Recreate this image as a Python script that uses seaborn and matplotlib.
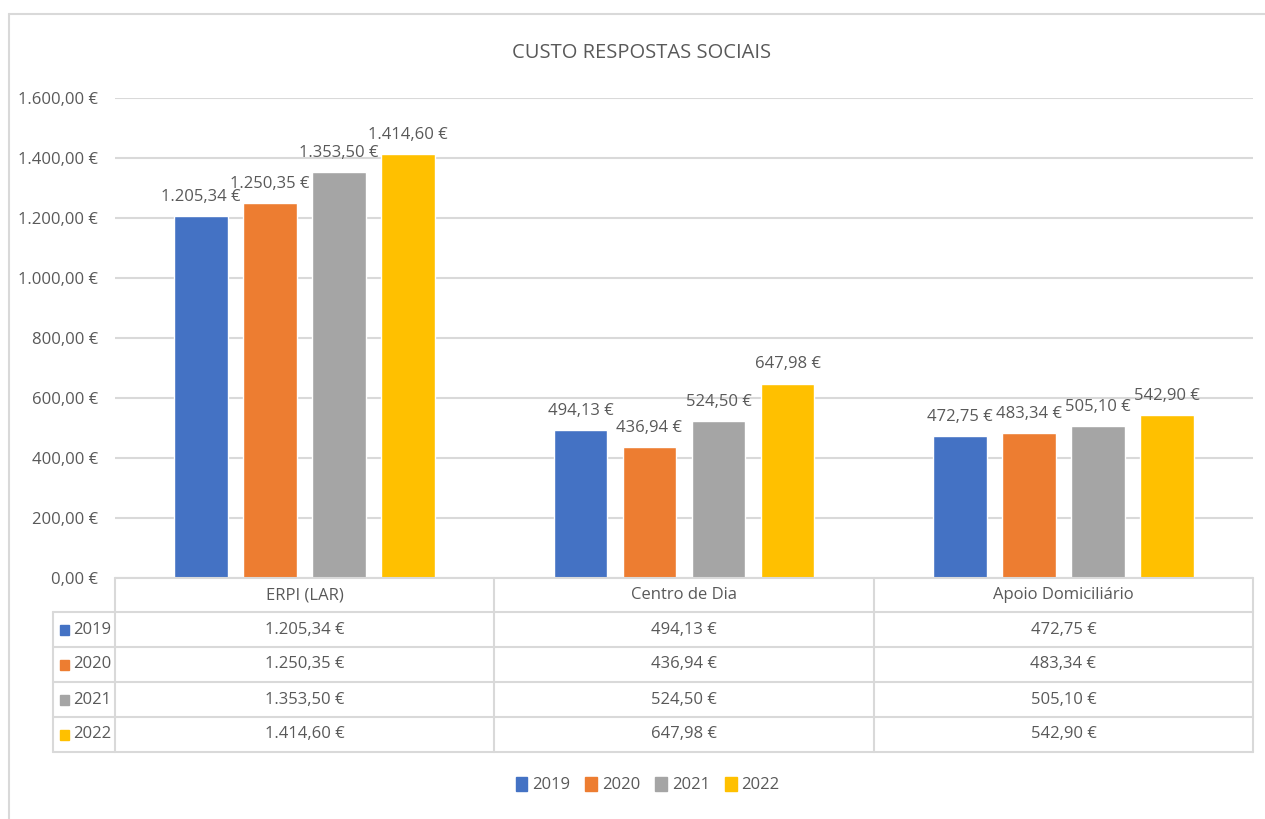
import matplotlib
matplotlib.use("Agg")
import matplotlib.pyplot as plt
import seaborn as sns
import pandas as pd
from matplotlib.lines import Line2D
from matplotlib.patches import Patch, Rectangle
from matplotlib import font_manager

categories = ["ERPI (LAR)", "Centro de Dia", "Apoio Domiciliário"]
years = ["2019", "2020", "2021", "2022"]
v2019 = [1205.34, 494.13, 472.75]
v2020 = [1250.35, 436.94, 483.34]
v2021 = [1353.50, 524.50, 505.10]
v2022 = [1414.60, 647.98, 542.90]
colors = ["#4472C4", "#ED7D31", "#A5A5A5", "#FFC000"]
yticks = [0, 200, 400, 600, 800, 1000, 1200, 1400, 1600]
title = "CUSTO RESPOSTAS SOCIAIS"

series = {"2019": v2019, "2020": v2020, "2021": v2021, "2022": v2022}
rows = []
for y in years:
    for c, v in zip(categories, series[y]):
        rows.append({"cat": c, "year": y, "value": v})
df = pd.DataFrame(rows)

sns.set_theme(style="white")
names = {f.name for f in font_manager.fontManager.ttflist}
fam = [f for f in ["Liberation Sans Narrow", "Open Sans", "DejaVu Sans"] if f in names]
plt.rcParams["font.family"] = fam

TXT = "#595959"
LINE = "#D9D9D9"


def euro(v):
    s = f"{v:,.2f}"
    s = s.replace(",", "X").replace(".", ",").replace("X", ".")
    return s + " €"


W, H = 1265, 819
fig = plt.figure(figsize=(W / 100, H / 100), dpi=100)
fig.patch.set_facecolor("white")


def fx(x):
    return x / W


def fy(y):
    return 1 - y / H


# outer frame
fig.add_artist(Line2D([fx(9), fx(1265)], [fy(14), fy(14)], color=LINE, lw=1.5))
fig.add_artist(Line2D([fx(9), fx(9)], [fy(14), fy(819)], color=LINE, lw=1.5))

left, right, top, bottom = 115, 1253, 98, 578
ax = fig.add_axes([fx(left), fy(bottom), fx(right - left), (bottom - top) / H])

sns.barplot(data=df, x="cat", y="value", hue="year", palette=colors,
            order=categories, hue_order=years, width=0.728, gap=0.22,
            ax=ax, legend=False, saturation=1)

ax.set_xlim(-0.5, 2.5)
ax.set_ylim(0, 1600)
ax.set_yticks(yticks)
ax.set_yticklabels([euro(t) for t in yticks], color=TXT, fontsize=12)
ax.set_xticks([])
ax.set_xlabel("")
ax.set_ylabel("")
ax.tick_params(axis="y", length=0, pad=12)
ax.grid(axis="y", color=LINE, lw=1.5)
ax.set_axisbelow(True)
for s in ax.spines.values():
    s.set_visible(False)

for cont in ax.containers:
    ax.bar_label(cont, labels=[euro(v) for v in cont.datavalues], padding=8,
                 color=TXT, fontsize=12)

fig.text(0.507, fy(53), title, ha="center", va="center", fontsize=14.5, color=TXT)

# data table
col_x = [left, 494, 874, right]
row_y = [578, 612, 647, 682, 717, 752]
leg_left = 53
fig.add_artist(Line2D([fx(left), fx(right)], [fy(578), fy(578)], color=LINE, lw=1.5))
for yy in row_y[1:]:
    fig.add_artist(Line2D([fx(leg_left), fx(right)], [fy(yy), fy(yy)], color=LINE, lw=1.5))
for xx in col_x:
    fig.add_artist(Line2D([fx(xx), fx(xx)], [fy(578), fy(752)], color=LINE, lw=1.5))
fig.add_artist(Line2D([fx(leg_left), fx(leg_left)], [fy(612), fy(752)], color=LINE, lw=1.5))

for i, c in enumerate(categories):
    cx = (col_x[i] + col_x[i + 1]) / 2
    fig.text(fx(cx), fy((row_y[0] + row_y[1]) / 2), c, ha="center", va="center",
             fontsize=12, color=TXT)
for r, y in enumerate(years):
    cy = (row_y[r + 1] + row_y[r + 2]) / 2
    fig.add_artist(Rectangle((fx(60), fy(cy + 5)), fx(9), 10 / H,
                             color=colors[r], transform=fig.transFigure))
    fig.text(fx(73), fy(cy), y, ha="left", va="center", fontsize=12, color=TXT)
    for i, v in enumerate(series[y]):
        cx = (col_x[i] + col_x[i + 1]) / 2
        fig.text(fx(cx), fy(cy), euro(v), ha="center", va="center",
                 fontsize=12, color=TXT)

handles = [Patch(color=c, label=y) for c, y in zip(colors, years)]
leg = fig.legend(handles=handles, loc="center", bbox_to_anchor=(0.512, fy(785)),
                 ncol=4, frameon=False, fontsize=12, handlelength=0.7,
                 handleheight=0.9, handletextpad=0.3, columnspacing=0.9)
for t in leg.get_texts():
    t.set_color(TXT)

fig.savefig("out.png", dpi=100)
